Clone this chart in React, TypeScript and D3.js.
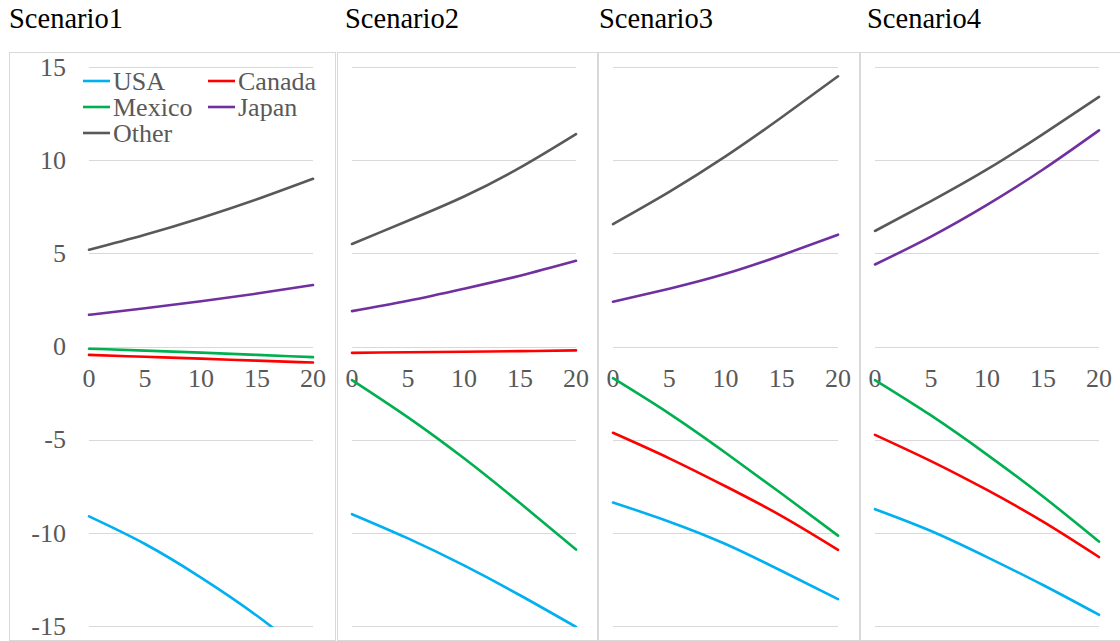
import React from "react";
import * as d3 from "d3";

const years = [0, 5, 10, 15, 20];
const scenarios = ["Scenario1", "Scenario2", "Scenario3", "Scenario4"];
const seriesNames = ["USA", "Canada", "Mexico", "Japan", "Other"];
const seriesColors = ["#00B0F0", "#FF0000", "#00B050", "#7030A0", "#595959"];
const yTicks = [15, 10, 5, 0, -5, -10, -15];
const xTicks = [0, 5, 10, 15, 20];

// values per scenario at years 0,5,10,15,20
const usa = [
  [-9.12, -10.6, -12.4, -14.45, -16.8],
  [-9.0, -10.3, -11.75, -13.35, -15.05],
  [-8.37, -9.4, -10.6, -12.05, -13.56],
  [-8.73, -9.9, -11.3, -12.8, -14.4],
];
const canada = [
  [-0.45, -0.55, -0.65, -0.76, -0.86],
  [-0.34, -0.31, -0.28, -0.25, -0.21],
  [-4.63, -6.0, -7.5, -9.1, -10.91],
  [-4.74, -6.15, -7.7, -9.4, -11.3],
];
const mexico = [
  [-0.12, -0.22, -0.33, -0.45, -0.57],
  [-1.8, -3.8, -6.0, -8.4, -10.9],
  [-1.7, -3.6, -5.7, -7.9, -10.15],
  [-1.8, -3.7, -5.8, -8.05, -10.47],
];
const japan = [
  [1.7, 2.05, 2.43, 2.84, 3.3],
  [1.9, 2.45, 3.1, 3.8, 4.6],
  [2.4, 3.1, 3.9, 4.9, 6.0],
  [4.4, 5.9, 7.6, 9.5, 11.6],
];
const other = [
  [5.19, 6.0, 6.9, 7.9, 9.0],
  [5.5, 6.75, 8.05, 9.6, 11.4],
  [6.57, 8.3, 10.2, 12.3, 14.5],
  [6.2, 7.8, 9.5, 11.4, 13.4],
];
const allSeries = [usa, canada, mexico, japan, other];

const panels = [
  { box: [9.5, 335.5], plot: [89, 313], titleX: 9, yLabels: true },
  { box: [337.5, 597.5], plot: [352, 576], titleX: 345, yLabels: false },
  { box: [598.5, 859.5], plot: [613, 838], titleX: 599, yLabels: false },
  { box: [860.5, 1130], plot: [875, 1099], titleX: 867, yLabels: false },
];

const FONT = "Liberation Serif";

export default function App() {
  const y = d3.scaleLinear().domain([-15, 15]).range([626, 67]);
  return (
    <svg width={1120} height={641} style={{ position: "absolute", left: 0, top: 0, background: "#fff" }}>
      <rect x={0} y={0} width={1120} height={641} fill="#fff" />
      <defs>
        {panels.map((p, i) => (
          <clipPath id={`clip${i}`} key={i}>
            <rect x={p.plot[0] - 3} y={y(15) - 2} width={p.plot[1] - p.plot[0] + 6} height={y(-15) - y(15) + 3} />
          </clipPath>
        ))}
      </defs>
      {panels.map((p, i) => {
        const x = d3.scaleLinear().domain([0, 20]).range(p.plot);
        const line = d3
          .line<number>()
          .x((_, k) => x(years[k]))
          .y((v) => y(v))
          .curve(d3.curveNatural);
        return (
          <g key={i}>
            <rect x={p.box[0]} y={52.5} width={p.box[1] - p.box[0]} height={588} fill="none" stroke="#d9d9d9" strokeWidth={1} />
            <text x={p.titleX} y={28} fontSize={28.5} fill="#000" fontFamily={FONT}>
              {scenarios[i]}
            </text>
            {yTicks.map((t) => (
              <line key={t} x1={p.plot[0]} x2={p.plot[1]} y1={Math.round(y(t)) + 0.5} y2={Math.round(y(t)) + 0.5} stroke="#d9d9d9" strokeWidth={1} />
            ))}
            {p.yLabels &&
              yTicks.map((t) => (
                <text key={t} x={66} y={y(t) + 8.8} fontSize={26} fill="#595959" textAnchor="end" fontFamily={FONT}>
                  {t}
                </text>
              ))}
            {xTicks.map((t) => (
              <text key={t} x={x(t)} y={387} fontSize={26} fill="#595959" textAnchor="middle" fontFamily={FONT}>
                {t}
              </text>
            ))}
            <g clipPath={`url(#clip${i})`}>
              {allSeries.map((s, j) => (
                <path key={j} d={line(s[i]) || ""} fill="none" stroke={seriesColors[j]} strokeWidth={2.6} strokeLinecap="round" />
              ))}
            </g>
          </g>
        );
      })}
      {seriesNames.map((n, j) => {
        const col = j % 2;
        const row = Math.floor(j / 2);
        const lx = col === 0 ? 83 : 208;
        const cy = 81 + row * 26;
        return (
          <g key={n}>
            <line x1={lx} x2={lx + 27} y1={cy} y2={cy} stroke={seriesColors[j]} strokeWidth={2.6} />
            <text x={lx + 30} y={cy + 8.6} fontSize={26} fill="#595959" fontFamily={FONT}>
              {n}
            </text>
          </g>
        );
      })}
    </svg>
  );
}
